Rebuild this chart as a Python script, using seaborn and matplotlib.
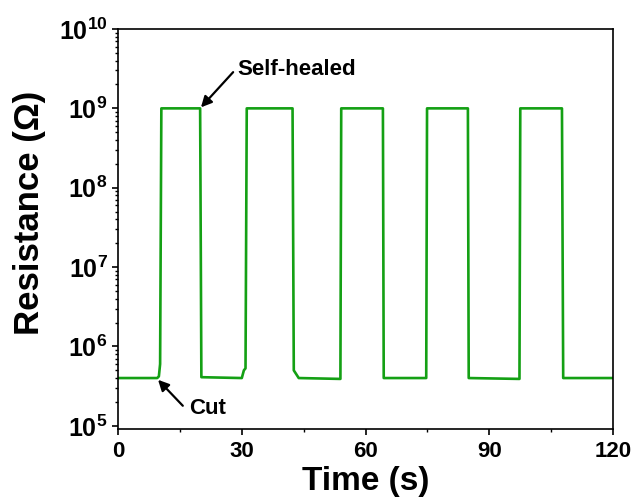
import numpy as np
import pandas as pd
import matplotlib
matplotlib.use("Agg")
import matplotlib.pyplot as plt
import matplotlib.ticker as mticker
import seaborn as sns

# Resistance of the self-healing conductor over repeated cut/heal cycles
time_s = [0, 9.5, 9.9, 10.2, 10.5, 19.9, 20.2, 30.0, 30.5, 30.9, 31.2,
          42.3, 42.6, 43.8, 53.9, 54.1, 64.2, 64.4, 74.7, 74.9,
          84.8, 85.0, 97.3, 97.5, 107.6, 107.9, 120.0]
resistance_ohm = [4.0e5, 4.0e5, 4.2e5, 6.0e5, 1e9, 1e9, 4.1e5, 4.0e5, 5.0e5, 5.3e5, 1e9,
                  1e9, 5.0e5, 4.0e5, 3.9e5, 1e9, 1e9, 4.0e5, 4.0e5, 1e9,
                  1e9, 4.0e5, 3.9e5, 1e9, 1e9, 4.0e5, 4.0e5]

x_ticks = [0, 30, 60, 90, 120]
y_decades = [5, 6, 7, 8, 9, 10]

sns.set_theme(style="ticks")
plt.rcParams["font.family"] = ["Liberation Sans", "DejaVu Sans"]
plt.rcParams["font.weight"] = "bold"
plt.rcParams["text.color"] = "black"
plt.rcParams["axes.labelcolor"] = "black"
plt.rcParams["xtick.color"] = "black"
plt.rcParams["ytick.color"] = "black"
plt.rcParams["mathtext.fontset"] = "custom"
plt.rcParams["mathtext.rm"] = "Liberation Sans:bold"
plt.rcParams["mathtext.bf"] = "Liberation Sans:bold"
plt.rcParams["mathtext.it"] = "Liberation Sans:bold"

df = pd.DataFrame({"Time": time_s, "Resistance": resistance_ohm})

fig = plt.figure(figsize=(6.38, 5.0), dpi=100)
ax = fig.add_axes([0.185, 0.142, 0.776, 0.8])

sns.lineplot(data=df, x="Time", y="Resistance", ax=ax, sort=False,
             estimator=None, color="#14a014", lw=1.9)

ax.set_yscale("log")
ax.set_xlim(0, 120)
ax.set_ylim(10 ** 4.96, 1e10)

ax.set_xticks(x_ticks)
ax.xaxis.set_minor_locator(mticker.MultipleLocator(15))
ax.set_yticks([10.0 ** d for d in y_decades])
ax.yaxis.set_major_formatter(
    mticker.FuncFormatter(lambda v, p: r"$\mathbf{10^{%d}}$" % int(round(np.log10(v)))))
ax.yaxis.set_minor_locator(mticker.LogLocator(base=10, subs=np.arange(2, 10)))
ax.yaxis.set_minor_formatter(mticker.NullFormatter())

ax.tick_params(axis="both", which="major", direction="out", length=4.5, width=1.2,
               pad=4, colors="black")
ax.tick_params(axis="x", which="major", labelsize=16)
ax.tick_params(axis="y", which="major", labelsize=18, pad=3)
ax.tick_params(axis="both", which="minor", direction="out", length=2.5, width=1.0,
               colors="black")
ax.tick_params(top=False, right=False, which="both")
for lab in ax.get_xticklabels():
    lab.set_fontweight("bold")

for sp in ax.spines.values():
    sp.set_visible(True)
    sp.set_linewidth(1.2)
    sp.set_color("black")

ax.set_xlabel("Time (s)", fontsize=24, fontweight="bold", labelpad=3)
ax.set_ylabel("Resistance (Ω)", fontsize=25, fontweight="bold")
ax.yaxis.set_label_coords(-0.145, 0.54)

arrow = dict(arrowstyle="-|>", color="black", lw=1.6, mutation_scale=16,
             shrinkA=0, shrinkB=0)
ax.annotate("", xy=(20.1, 1.03e9), xytext=(27.9, 2.86e9), arrowprops=arrow)
ax.text(28.85, 3.12e9, "Self-healed", fontsize=16, fontweight="bold",
        ha="left", va="center")
ax.annotate("", xy=(9.7, 3.8e5), xytext=(15.7, 1.79e5), arrowprops=arrow)
ax.text(17.2, 1.64e5, "Cut", fontsize=16, fontweight="bold",
        ha="left", va="center")

fig.savefig("out.png", dpi=100)
